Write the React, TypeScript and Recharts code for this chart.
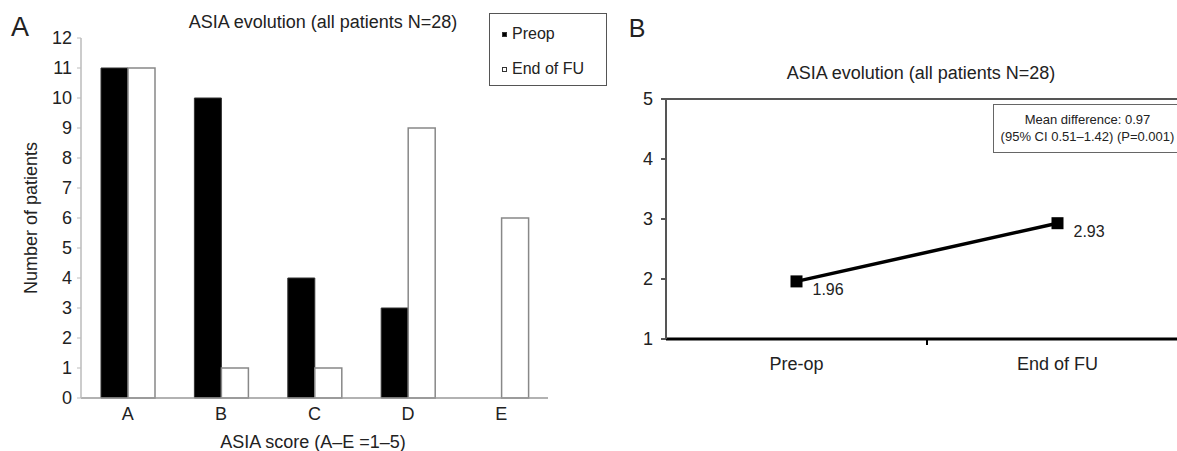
import React from "react";
import {
  BarChart,
  Bar,
  XAxis,
  YAxis,
  Legend,
  LineChart,
  Line,
  LabelList,
  ReferenceLine,
} from "recharts";

// panel A: ASIA grade distribution
const categories = ["A", "B", "C", "D", "E"];
const preopCounts = [11, 10, 4, 3, 0];
const endOfFuCounts = [11, 1, 1, 9, 6];
const countTicks = [0, 1, 2, 3, 4, 5, 6, 7, 8, 9, 10, 11, 12];
const seriesOrder = ["preop", "end"];

// panel B: mean ASIA score
const timepoints = ["Pre-op", "End of FU"];
const meanScores = [1.96, 2.93];
const scoreTicks = [1, 2, 3, 4, 5];

const FONT = "'Liberation Sans', Arial, sans-serif";
const TEXT = "#222";

const barData = categories.map((c, i) => ({
  name: c,
  preop: preopCounts[i],
  end: endOfFuCounts[i],
}));

const lineData = timepoints.map((t, i) => ({
  name: t,
  pos: i + 0.5,
  value: meanScores[i],
}));

const abs = (x: number, y: number, extra: React.CSSProperties = {}): React.CSSProperties => ({
  position: "absolute",
  left: x,
  top: y,
  transform: "translate(-50%, -50%)",
  whiteSpace: "nowrap",
  lineHeight: 1,
  color: TEXT,
  ...extra,
});

function LegendBox({ payload }: any) {
  const items = [...(payload || [])].sort(
    (a: any, b: any) => seriesOrder.indexOf(a.dataKey) - seriesOrder.indexOf(b.dataKey)
  );
  return (
    <div
      style={{
        width: 118,
        height: 73,
        boxSizing: "border-box",
        border: "1px solid #555",
        background: "#fff",
        position: "relative",
        fontSize: 16,
        color: TEXT,
        fontFamily: FONT,
      }}
    >
      {items.map((p: any, i: number) => (
        <div
          key={p.value}
          style={{ position: "absolute", left: 12, top: 20 + i * 35, transform: "translateY(-50%)", display: "flex", alignItems: "center", lineHeight: 1 }}
        >
          <span
            style={{
              display: "inline-block",
              width: 5,
              height: 5,
              boxSizing: "border-box",
              background: p.dataKey === "preop" ? "#000" : "#fff",
              border: "1px solid #333",
              marginRight: 5,
            }}
          />
          {p.value}
        </div>
      ))}
    </div>
  );
}

function TimeTick({ x, y, payload }: any) {
  const v = payload.value;
  if (v === 1) {
    return <line x1={x} x2={x} y1={y - 18} y2={y - 12} stroke="#000" strokeWidth={2} />;
  }
  const label = timepoints[Math.floor(v)];
  return (
    <text x={x} y={y} dy="0.71em" textAnchor="middle" fontSize={18} fill={TEXT}>
      {label}
    </text>
  );
}

function Square(props: any) {
  const { cx, cy, index } = props;
  return <rect key={`sq-${index}`} x={cx - 6} y={cy - 6} width={12} height={12} fill="#000" />;
}

function ValueLabel(props: any) {
  const { x, y, value } = props;
  return (
    <text x={x + 16} y={y + 8} dy="0.35em" fontSize={16} fill={TEXT}>
      {value}
    </text>
  );
}

export default function App() {
  return (
    <div
      style={{
        position: "absolute",
        left: 0,
        top: 0,
        width: 1177,
        height: 451,
        overflow: "hidden",
        background: "#fff",
        fontFamily: FONT,
      }}
    >
      {/* Panel A */}
      <div style={{ position: "absolute", left: 0, top: 0 }}>
        <BarChart
          width={620}
          height={451}
          data={barData}
          margin={{ top: 38, right: 72, bottom: 23, left: 0 }}
          barGap={0}
          barSize={27}
        >
          <XAxis
            dataKey="name"
            axisLine={{ stroke: "#999", strokeWidth: 1.5 }}
            tickLine={false}
            tickSize={4}
            tickMargin={5}
            tick={{ fontSize: 18, fill: TEXT }}
            height={30}
          />
          <YAxis
            width={81}
            domain={[0, 12]}
            ticks={countTicks}
            interval={0}
            axisLine={{ stroke: "#bbb", strokeWidth: 1.5 }}
            tickLine={{ stroke: "#bbb" }}
            tickSize={4}
            tickMargin={5}
            tick={{ fontSize: 18, fill: TEXT }}
          />
          <Legend
            layout="vertical"
            align="center"
            verticalAlign="middle"
            wrapperStyle={{ left: 489, top: 13, width: 118, height: 73 }}
            content={<LegendBox />}
          />
          <Bar dataKey="preop" name="Preop" fill="#000" stroke="#333" isAnimationActive={false} />
          <Bar dataKey="end" name="End of FU" fill="#fff" stroke="#888" strokeWidth={1.5} isAnimationActive={false} />
        </BarChart>
      </div>
      <div style={abs(20, 27, { fontSize: 27 })}>A</div>
      <div style={abs(323, 22, { fontSize: 18 })}>ASIA evolution (all patients N=28)</div>
      <div style={abs(31, 218, { fontSize: 18, transform: "translate(-50%, -50%) rotate(-90deg)" })}>
        Number of patients
      </div>
      <div style={abs(313, 442, { fontSize: 18 })}>ASIA score (A–E =1–5)</div>

      {/* Panel B */}
      <div style={{ position: "absolute", left: 600, top: 0 }}>
        <LineChart
          width={590}
          height={451}
          data={lineData}
          margin={{ top: 99, right: 2, bottom: 82, left: 0 }}
        >
          <XAxis
            type="number"
            dataKey="pos"
            domain={[0, 2]}
            ticks={[0.5, 1, 1.5]}
            interval={0}
            axisLine={{ stroke: "#000", strokeWidth: 3 }}
            tickLine={false}
            tickSize={6}
            tickMargin={12}
            tick={<TimeTick />}
            height={30}
          />
          <YAxis
            width={66}
            domain={[1, 5]}
            ticks={scoreTicks}
            interval={0}
            axisLine={{ stroke: "#555", strokeWidth: 2 }}
            tickLine={{ stroke: "#555", strokeWidth: 2 }}
            tickSize={5}
            tickMargin={8}
            tick={{ fontSize: 18, fill: TEXT }}
          />
          <ReferenceLine y={5} stroke="#555" strokeWidth={2} />
          <Line
            dataKey="value"
            stroke="#000"
            strokeWidth={3.5}
            dot={<Square />}
            activeDot={false}
            isAnimationActive={false}
          >
            <LabelList dataKey="value" content={<ValueLabel />} />
          </Line>
        </LineChart>
      </div>
      <div style={abs(637, 28, { fontSize: 25 })}>B</div>
      <div style={abs(921, 73, { fontSize: 18 })}>ASIA evolution (all patients N=28)</div>
      <div
        style={{
          position: "absolute",
          left: 993,
          top: 104,
          width: 189,
          height: 49,
          boxSizing: "border-box",
          border: "1px solid #666",
          background: "#fff",
          fontSize: 13,
          lineHeight: "17px",
          paddingTop: 6,
          textAlign: "center",
          color: TEXT,
          whiteSpace: "nowrap",
        }}
      >
        <div>Mean difference: 0.97</div>
        <div>(95% CI 0.51–1.42) (P=0.001)</div>
      </div>
    </div>
  );
}
